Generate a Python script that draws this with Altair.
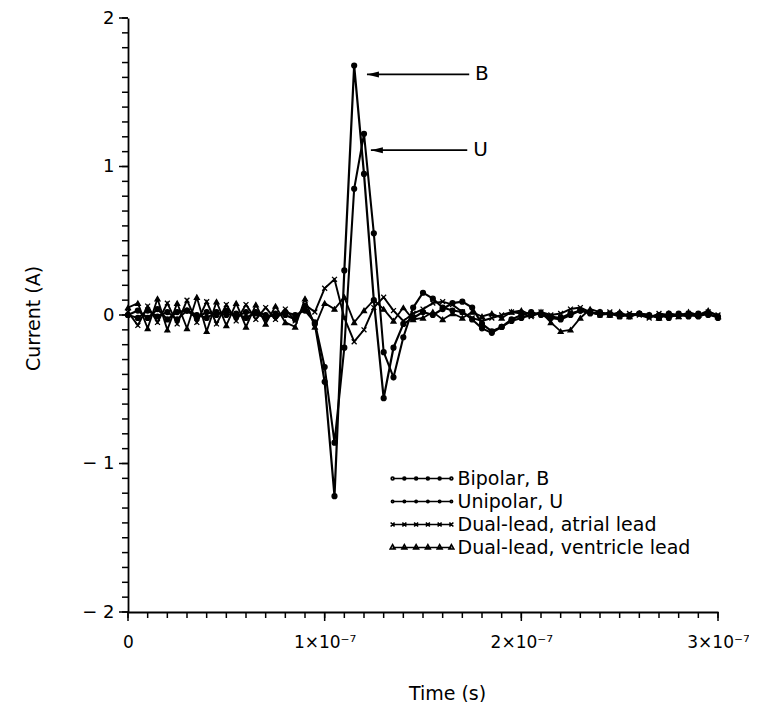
import altair as alt
import pandas as pd

# ---------------- data ----------------
time_ns = list(range(0, 301, 5))  # sample instants, ns

bipolar = [0.00, 0.03, -0.02, 0.04, -0.03, 0.02, 0.03, -0.02, 0.02, 0.00,
           0.03, -0.01, 0.02, 0.01, -0.02, 0.01, 0.00, -0.03, 0.06, -0.06,
           -0.45, -1.22, 0.30, 1.68, 0.95, 0.10, -0.56, -0.22, -0.06, -0.02,
           0.02, 0.00, 0.04, 0.08, 0.09, 0.05, -0.06, -0.11, -0.08, -0.03,
           0.00, 0.02, 0.00, -0.02, -0.03, 0.00, 0.03, 0.01, 0.02, 0.00,
           0.01, -0.01, 0.01, 0.00, -0.02, 0.01, 0.00, -0.01, 0.01, 0.00, -0.01]

unipolar = [0.00, -0.02, 0.03, -0.01, 0.02, -0.03, 0.03, 0.00, -0.02, 0.02,
            0.00, 0.01, -0.02, 0.02, 0.00, -0.01, 0.02, 0.00, 0.03, -0.05,
            -0.35, -0.86, -0.22, 0.85, 1.22, 0.55, -0.25, -0.42, -0.15, 0.05,
            0.15, 0.11, 0.05, 0.03, 0.02, -0.03, -0.09, -0.12, -0.08, -0.04,
            -0.02, 0.00, 0.01, -0.01, -0.02, 0.01, 0.03, 0.02, 0.00, 0.01,
            -0.01, 0.00, 0.01, -0.01, 0.00, -0.02, 0.01, 0.00, -0.01, 0.01, -0.02]

atrial = [0.02, -0.07, 0.06, -0.05, 0.08, -0.06, 0.10, -0.05, 0.09, -0.06,
          0.07, -0.04, 0.07, -0.03, 0.05, -0.03, 0.04, -0.04, 0.07, 0.02,
          0.18, 0.24, -0.02, -0.18, -0.10, 0.05, 0.12, 0.03, -0.04, 0.01,
          0.04, 0.08, 0.09, 0.07, 0.02, -0.02, -0.04, -0.02, 0.00, 0.02,
          0.01, -0.01, 0.02, 0.00, 0.01, 0.04, 0.05, 0.02, 0.00, 0.02,
          -0.01, 0.01, 0.00, -0.02, 0.01, 0.00, -0.01, 0.01, 0.00, 0.02, 0.00]

ventricle = [0.05, 0.08, -0.09, 0.11, -0.10, 0.08, -0.09, 0.12, -0.11, 0.09,
             -0.07, 0.08, -0.08, 0.07, -0.06, 0.06, -0.05, -0.08, 0.11, -0.08,
             0.08, 0.04, 0.12, -0.05, 0.03, 0.10, 0.04, -0.04, 0.05, -0.03,
             -0.02, 0.02, -0.03, 0.01, -0.02, 0.02, -0.01, 0.01, -0.02, 0.02,
             0.03, 0.00, 0.02, -0.05, -0.11, -0.10, -0.02, 0.04, 0.02, 0.00,
             0.02, -0.01, 0.01, 0.00, -0.02, 0.01, -0.01, 0.02, 0.00, 0.03, -0.01]

series_names = ["Bipolar, B", "Unipolar, U",
                "Dual-lead, atrial lead", "Dual-lead, ventricle lead"]

x_tick_labels = ["0", "1×10⁻⁷", "2×10⁻⁷", "3×10⁻⁷"]
x_major = [0.0, 1e-7, 2e-7, 3e-7]
x_minor = [k * 1e-8 for k in range(31)]
y_major = [-2, -1, 0, 1, 2]
y_minor = [round(-2 + 0.1 * k, 1) for k in range(41)]

ann_labels = ["B", "U"]
ann_y = [1.62, 1.11]
ann_tip = [1.215e-7, 1.235e-7]
ann_tail = [1.735e-7, 1.725e-7]
ann_text_x = [1.765e-7, 1.755e-7]

# ---------------- tables ----------------
rows = []
for name, vals in zip(series_names, [bipolar, unipolar, atrial, ventricle]):
    for t, v in zip(time_ns, vals):
        rows.append({"series": name, "time": t * 1e-9, "current": v})
df = pd.DataFrame(rows)

ann = pd.DataFrame({"label": ann_labels, "y": ann_y, "tip": ann_tip,
                    "tail": ann_tail, "tx": ann_text_x})
xmaj_df = pd.DataFrame({"xt": x_major})
ymaj_df = pd.DataFrame({"yt": y_major})
xmin_df = pd.DataFrame({"xm": x_minor})
ymin_df = pd.DataFrame({"ym": y_minor})

# ---------------- styles ----------------
FONT = "DejaVu Sans"
W, H = 590, 594
marker_shapes = ["circle", "circle", "M-1,-1L1,1M-1,1L1,-1", "triangle-up"]
line_widths = [2.2, 1.8, 2.0, 2.0]


def circ(x, r=0.3):
    return f"M{x - r},0a{r},{r} 0 1,0 {2 * r},0a{r},{r} 0 1,0 {-2 * r},0"


def cross(x, c=0.4):
    return f"M{x - c},{-c}L{x + c},{c}M{x - c},{c}L{x + c},{-c}"


def tri(x):
    return f"M{x},-0.6L{x + 0.5},0.3L{x - 0.5},0.3Z"


mpos = [-6, -3.6, -1.2, 1.2, 3.6, 6]
base = "M-6,0H6"
legend_paths = [
    base + "".join(circ(p) for p in mpos),
    base + "".join(circ(p, 0.25) for p in mpos),
    base + "".join(cross(p) for p in mpos),
    base + "".join(tri(p) for p in mpos),
]

xscale = alt.Scale(domain=[0, 3e-7], nice=False, zero=False)
yscale = alt.Scale(domain=[-2, 2], nice=False, zero=False)

x_label_expr = f"{x_tick_labels!r}[round(datum.value*1e7)]"
y_label_expr = ("datum.value < -0.5 ? '− ' + abs(round(datum.value)) "
                ": '' + round(datum.value)")

x_axis = alt.Axis(
    values=x_major, labelExpr=x_label_expr, labelFlush=False,
    ticks=False, tickSize=0, domainColor="black", domainWidth=1.8,
    labelFont=FONT, labelFontSize=17, labelColor="black", labelPadding=22,
    labelOverlap=False, grid=False,
    title="Time (s)", titleFont=FONT, titleFontSize=19, titleFontWeight="normal",
    titleColor="black", titleX=319, titleY=81, titleBaseline="middle",
    titleAlign="center",
)
y_axis = alt.Axis(
    values=y_major, labelExpr=y_label_expr, labelFlush=False,
    ticks=False, tickSize=0, domainColor="black", domainWidth=1.8,
    labelFont=FONT, labelFontSize=18, labelColor="black", labelPadding=14,
    labelOverlap=False, grid=False,
    title="Current (A)", titleFont=FONT, titleFontSize=19,
    titleFontWeight="normal", titleColor="black", titleAngle=270,
    titleX=-95, titleY=300, titleAlign="center", titleBaseline="middle",
)

base_chart = alt.Chart(df)

lines = base_chart.mark_line(color="black", interpolate="linear").encode(
    x=alt.X("time:Q", scale=xscale, axis=x_axis),
    y=alt.Y("current:Q", scale=yscale, axis=y_axis),
    detail="series:N",
    strokeWidth=alt.StrokeWidth("series:N", scale=alt.Scale(domain=series_names, range=line_widths), legend=None),
)

points = base_chart.mark_point(filled=True, color="black", stroke="black",
                               strokeWidth=1.3, size=24, opacity=1).encode(
    x=alt.X("time:Q", scale=xscale),
    y=alt.Y("current:Q", scale=yscale),
    shape=alt.Shape("series:N", scale=alt.Scale(domain=series_names, range=marker_shapes), legend=None),
)

legend_layer = base_chart.transform_filter("false").mark_point(
    filled=False, color="black", strokeWidth=1.6, opacity=1
).encode(
    x=alt.X("time:Q", scale=xscale),
    y=alt.Y("current:Q", scale=yscale),
    shape=alt.Shape(
        "series:N",
        scale=alt.Scale(domain=series_names, range=legend_paths),
        legend=alt.Legend(
            title=None, orient="none", legendX=265, legendY=451,
            symbolSize=96, symbolOffset=19.5, labelOffset=26,
            symbolStrokeColor="black", symbolFillColor="black",
            symbolStrokeWidth=1.6, symbolOpacity=1,
            labelFont=FONT, labelFontSize=19, labelColor="black",
            labelLimit=400, rowPadding=3, padding=0,
        ),
    ),
)

# tick marks (minor and longer major ones)
xmin_ticks = alt.Chart(xmin_df).mark_rule(color="black", strokeWidth=1.5).encode(
    x=alt.X("xm:Q", scale=xscale), y=alt.value(H), y2=alt.value(H + 6),
)
ymin_ticks = alt.Chart(ymin_df).mark_rule(color="black", strokeWidth=1.5).encode(
    y=alt.Y("ym:Q", scale=yscale), x=alt.value(-6), x2=alt.value(0),
)
xmaj_ticks = alt.Chart(xmaj_df).mark_rule(color="black", strokeWidth=1.5).encode(
    x=alt.X("xt:Q", scale=xscale), y=alt.value(H), y2=alt.value(H + 9),
)
ymaj_ticks = alt.Chart(ymaj_df).mark_rule(color="black", strokeWidth=1.5).encode(
    y=alt.Y("yt:Q", scale=yscale), x=alt.value(-9), x2=alt.value(0),
)

arrow_lines = alt.Chart(ann).mark_rule(color="black", strokeWidth=1.8).encode(
    x=alt.X("tip:Q", scale=xscale), x2="tail:Q",
    y=alt.Y("y:Q", scale=yscale),
)
arrow_heads = alt.Chart(ann).mark_point(
    shape="M0,0L2.4,-0.6L2.4,0.6Z", filled=True, color="black", size=100, opacity=1
).encode(
    x=alt.X("tip:Q", scale=xscale),
    y=alt.Y("y:Q", scale=yscale),
)
arrow_text = alt.Chart(ann).mark_text(
    align="left", baseline="middle", font=FONT, fontSize=20, color="black"
).encode(
    x=alt.X("tx:Q", scale=xscale),
    y=alt.Y("y:Q", scale=yscale),
    text="label:N",
)

chart = alt.layer(
    lines, points, legend_layer, xmin_ticks, ymin_ticks, xmaj_ticks, ymaj_ticks,
    arrow_lines, arrow_heads, arrow_text
).resolve_scale(shape="independent").properties(
    width=W, height=H,
    autosize=alt.AutoSizeParams(type="none"),
    padding={"left": 120, "top": 10, "right": 31, "bottom": 90},
    background="white",
).configure_view(stroke=None)

chart.save("out.html", embed_options={"renderer": "svg", "actions": False})
